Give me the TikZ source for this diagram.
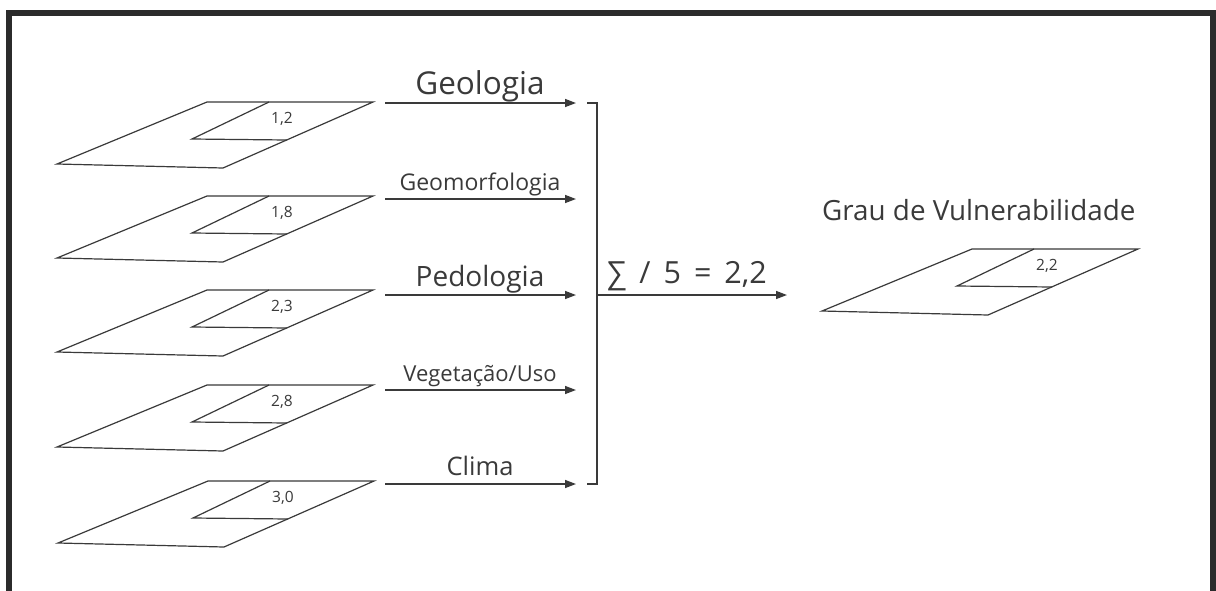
\documentclass[tikz,border=0pt]{standalone}
\usepackage{fontspec}
\setmainfont{Open Sans}
\usepackage{tikz}
\usetikzlibrary{arrows.meta}
\definecolor{traco}{HTML}{3A3A3A}
\definecolor{moldura}{HTML}{2B2B2B}
\tikzset{
  camada/.style={draw=traco,line width=1.2pt,line join=miter},
  valor/.style={text=traco,font=\fontsize{15.5}{15.5}\selectfont,inner sep=0pt},
  rotulo/.style={text=traco,anchor=base,inner sep=0pt},
  seta/.style={draw=traco,line width=1.4pt,-{Triangle[length=11pt,width=8pt]}},
  chave/.style={draw=traco,line width=1.3pt}
}
% one map layer: #1 node name, #2 top-left corner, #3 value
\newcommand{\camada}[3]{%
  \begin{scope}[shift={#2}]
    \draw[camada] (0,0) -- (166,0) -- (16,66) -- (-150,62) -- cycle;
    \draw[camada] (62,0) -- (-15,37) -- (80,38);
    \node[valor] (#1) at (75,17) {#3};
  \end{scope}}

\begin{document}
\begin{tikzpicture}[x=1pt,y=-1pt]
  \useasboundingbox (0,0) rectangle (1216,590);
  \clip (0,0) rectangle (1216,590);
  % frame
  \fill[moldura] (6,10) rectangle (1216,600);
  \fill[white] (12,16) rectangle (1210,600);
  % input layers
  \camada{v1}{(207,102)}{1,2}
  \camada{v2}{(207,196)}{1,8}
  \camada{v3}{(207,290)}{2,3}
  \camada{v4}{(207,385)}{2,8}
  \camada{v5}{(208,481)}{3,0}
  % arrows and their names
  \foreach \i/\y/\t/\s in {1/103/Geologia/31.5,2/199/Geomorfologia/23,
      3/295/Pedologia/28,4/390/Vegetação\slash Uso/22,5/484/Clima/25.5}{
    \coordinate (s\i) at (385,\y);
    \coordinate (e\i) at (576,\y);
    \draw[seta] (s\i) -- (e\i);
    \node[rotulo,font=\fontsize{\s}{\s}\selectfont] (n\i) at (480,{\y-9}) {\t};
  }
  % bracket collecting the five layers
  \coordinate (bt) at (597,103);
  \coordinate (bb) at (597,484);
  \coordinate (soma) at (597,295);
  \coordinate (saida) at (787,295);
  \draw[chave] (587,103) -- (bt) -- (bb) -- (587,484);
  \draw[seta] (soma) -- (saida);
  \node[rotulo,font=\fontsize{30.5}{30.5}\selectfont] (media) at (687,283) {∑\, /\, 5 \,=\, 2,2};
  % result layer
  \node[rotulo,anchor=base west,font=\fontsize{27.8}{27.8}\selectfont] (grau) at (822,220) {Grau de Vulnerabilidade};
  \camada{vr}{(972,249)}{2,2}
\end{tikzpicture}
\end{document}
